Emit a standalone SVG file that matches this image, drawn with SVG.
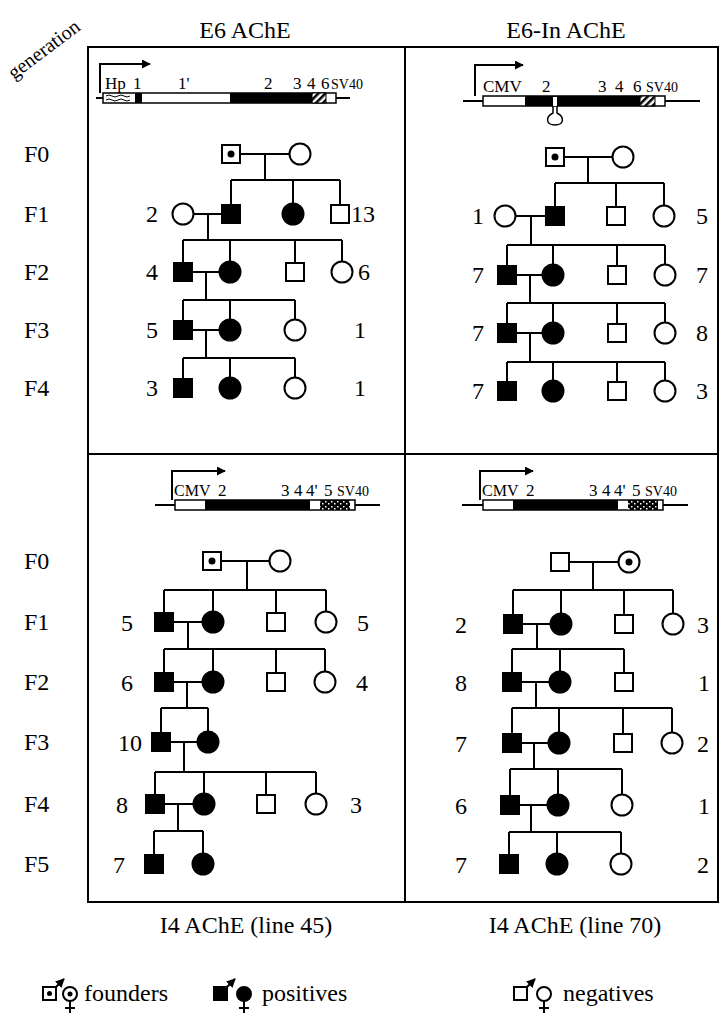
<svg xmlns="http://www.w3.org/2000/svg" width="727" height="1023" viewBox="0 0 727 1023" font-family="'Liberation Serif','Times New Roman',serif">
<defs>
<style>
text{font-family:"Liberation Serif","Times New Roman",serif;fill:#000}
.lb{font-size:24px}
.num{font-size:24px;text-anchor:middle}
.gl{font-size:20px}
.cl{font-size:17px}
.cm{font-size:16px}
.sv{font-size:14px}
.ln{stroke:#000;stroke-width:2;fill:none}
.o{fill:#fff;stroke:#000;stroke-width:2}
.f{fill:#000;stroke:#000;stroke-width:2}
.dot{fill:#000}
.leg{font-size:24px}
</style>
<pattern id="hatch" width="5" height="5" patternUnits="userSpaceOnUse" patternTransform="rotate(45)">
<rect width="5" height="5" fill="#fff"/><rect width="2.5" height="5" fill="#000"/>
</pattern>
<pattern id="stip" width="6" height="5" patternUnits="userSpaceOnUse">
<rect width="6" height="5" fill="#000"/><rect x="1" y="1" width="1.5" height="1.5" fill="#fff"/><rect x="4" y="3" width="1.5" height="1.5" fill="#fff"/>
</pattern>
<marker id="ah" viewBox="0 0 10 10" refX="9" refY="5" markerWidth="9" markerHeight="9" markerUnits="userSpaceOnUse" orient="auto">
<path d="M0,0 L10,5 L0,10 z" fill="#000"/>
</marker>
</defs>
<rect width="727" height="1023" fill="#fff"/>

<g id="titles">
<text class="lb" x="245" y="38" text-anchor="middle">E6 AChE</text>
<text class="lb" x="566" y="38" text-anchor="middle">E6-In AChE</text>
<text class="gl" x="14" y="80" transform="rotate(-37 14 80)">generation</text>
<text class="lb" x="246" y="933" text-anchor="middle">I4 AChE (line 45)</text>
<text class="lb" x="575" y="933" text-anchor="middle">I4 AChE (line 70)</text>
</g>

<g id="frame">
<rect class="ln" x="88" y="47" width="630" height="855"/>
<line class="ln" x1="88" y1="454" x2="718" y2="454"/>
<line class="ln" x1="405" y1="47" x2="405" y2="902"/>
</g>

<g id="gen-labels" class="lb">
<text x="24" y="162">F0</text>
<text x="24" y="222">F1</text>
<text x="24" y="280">F2</text>
<text x="24" y="338">F3</text>
<text x="24" y="396">F4</text>
<text x="24" y="569">F0</text>
<text x="24" y="630">F1</text>
<text x="24" y="690">F2</text>
<text x="24" y="750">F3</text>
<text x="24" y="812">F4</text>
<text x="24" y="872">F5</text>
</g>

<g id="construct-E6">
<line class="ln" x1="96" y1="98" x2="350" y2="98"/>
<path class="ln" d="M100,93 V64 H150" marker-end="url(#ah)"/>
<rect x="103" y="93" width="233" height="10" fill="#fff" stroke="#000" stroke-width="1.5"/>
<path d="M106,96 q3,-2 6,0 t6,0 t6,0 t6,0 M106,100 q3,-2 6,0 t6,0 t6,0 t6,0" fill="none" stroke="#000" stroke-width="1"/>
<rect x="135" y="93" width="7" height="10" fill="#000"/>
<rect x="230" y="93" width="82" height="10" fill="#000"/>
<rect x="312" y="93" width="14" height="10" fill="url(#hatch)" stroke="#000" stroke-width="1"/>
<text class="cl" x="105" y="89">Hp</text>
<text class="cl" x="133" y="89">1</text>
<text class="cl" x="178" y="89">1'</text>
<text class="cl" x="264" y="89">2</text>
<text class="cl" x="293" y="89">3</text>
<text class="cl" x="307" y="89">4</text>
<text class="cl" x="321" y="89">6</text>
<text class="sv" x="331" y="89">SV40</text>
</g>

<g id="construct-E6In">
<line class="ln" x1="463" y1="101" x2="700" y2="101"/>
<path class="ln" d="M475,96 V65 H523" marker-end="url(#ah)"/>
<rect x="483" y="96" width="182" height="10" fill="#fff" stroke="#000" stroke-width="1.5"/>
<rect x="525" y="96" width="115" height="10" fill="#000"/>
<rect x="553" y="97" width="4" height="9" fill="#fff"/>
<rect x="640" y="96" width="15" height="10" fill="url(#hatch)" stroke="#000" stroke-width="1"/>
<path d="M553,106 V113 C545,117 546,125 555,125 C564,125 565,117 557,113 V106" fill="none" stroke="#000" stroke-width="1.5"/>
<text class="cl" x="483" y="92">CMV</text>
<text class="cl" x="542" y="92">2</text>
<text class="cl" x="598" y="92">3</text>
<text class="cl" x="615" y="92">4</text>
<text class="cl" x="633" y="92">6</text>
<text class="sv" x="646" y="92">SV40</text>
</g>

<g id="construct-I4-45">
<line class="ln" x1="155" y1="505" x2="380" y2="505"/>
<path class="ln" d="M172,500 V471 H225" marker-end="url(#ah)"/>
<rect x="175" y="500" width="180" height="10" fill="#fff" stroke="#000" stroke-width="1.5"/>
<rect x="205" y="500" width="105" height="10" fill="#000"/>
<rect x="320" y="500" width="30" height="10" fill="url(#stip)"/>
<text class="cm" x="174" y="496">CMV</text>
<text class="cl" x="218" y="496">2</text>
<text class="cl" x="281" y="496">3</text>
<text class="cl" x="294" y="496">4</text>
<text class="cl" x="306" y="496">4'</text>
<text class="cl" x="324" y="496">5</text>
<text class="sv" x="337" y="496">SV40</text>
</g>

<g id="construct-I4-70">
<line class="ln" x1="462" y1="505" x2="688" y2="505"/>
<path class="ln" d="M480,500 V471 H533" marker-end="url(#ah)"/>
<rect x="483" y="500" width="180" height="10" fill="#fff" stroke="#000" stroke-width="1.5"/>
<rect x="513" y="500" width="105" height="10" fill="#000"/>
<rect x="628" y="500" width="30" height="10" fill="url(#stip)"/>
<text class="cm" x="482" y="496">CMV</text>
<text class="cl" x="526" y="496">2</text>
<text class="cl" x="589" y="496">3</text>
<text class="cl" x="602" y="496">4</text>
<text class="cl" x="614" y="496">4'</text>
<text class="cl" x="632" y="496">5</text>
<text class="sv" x="645" y="496">SV40</text>
</g>

<g id="connectors" class="ln">
<path d="M240,154 H289.5 M265,154 V180 M231,180 H340 M231,180 V205 M293,180 V203.5 M340,180 V205"/>
<path d="M193.5,214 H222 M208,214 V240 M183,240 H342 M183,240 V263 M230,240 V261.5 M295,240 V263 M342,240 V261.5"/>
<path d="M192,272 H219.5 M206,272 V300 M183,300 H295 M183,300 V321 M230,300 V319.5 M295,300 V319.5"/>
<path d="M192,330 H219.5 M206,330 V358 M183,358 H295 M183,358 V379 M230,358 V377.5 M295,358 V377.5"/>

<path d="M564,157 H612.5 M588,157 V183 M555,183 H664 M555,183 V207 M616,183 V207 M664,183 V205.5"/>
<path d="M515.5,216 H546 M531,216 V245 M507,245 H665 M507,245 V266 M553,245 V264.5 M617,245 V266 M665,245 V264.5"/>
<path d="M516,275 H542.5 M530,275 V303 M507,303 H665 M507,303 V324 M553,303 V322.5 M617,303 V324 M665,303 V322.5"/>
<path d="M516,333 H542.5 M530,333 V362 M507,362 H665 M507,362 V382 M553,362 V380.5 M617,362 V382 M665,362 V380.5"/>

<path d="M221,561 H269.5 M247,561 V590 M164,590 H326 M164,590 V613 M213,590 V611.5 M276,590 V613 M326,590 V611.5"/>
<path d="M173,622 H202.5 M188,622 V649 M164,649 H325 M164,649 V673 M213,649 V671.5 M276,649 V673 M325,649 V671.5"/>
<path d="M173,682 H202.5 M187,682 V708 M161,708 H208 M161,708 V733 M208,708 V731.5"/>
<path d="M170,742 H197.5 M184,742 V772 M155,772 H316 M155,772 V795 M204,772 V793.5 M266,772 V795 M316,772 V793.5"/>
<path d="M164,804 H193.5 M178,804 V831 M154,831 H203 M154,831 V855 M203,831 V853.5"/>

<path d="M569,562 H618.5 M593,562 V590 M513,590 H673 M513,590 V615 M561,590 V613.5 M624,590 V615 M673,590 V613.5"/>
<path d="M522,624 H550.5 M537,624 V649 M512,649 H624 M512,649 V673 M560,649 V671.5 M624,649 V673"/>
<path d="M521,682 H549.5 M536,682 V708 M512,708 H672 M512,708 V734 M559,708 V732.5 M623,708 V734 M672,708 V732.5"/>
<path d="M521,743 H548.5 M534,743 V769 M510,769 H622 M510,769 V796 M558,769 V794.5 M622,769 V794.5"/>
<path d="M519,805 H547.5 M531,805 V832 M509,832 H621 M509,832 V855 M557,832 V853.5 M621,832 V853.5"/>
</g>

<g id="ped-E6">
<rect class="o" x="222" y="145" width="18" height="18"/><circle class="dot" cx="231" cy="154" r="3.5"/>
<circle class="o" cx="300" cy="154" r="10.5"/>
<circle class="o" cx="183" cy="214" r="10.5"/>
<rect class="f" x="222" y="205" width="18" height="18"/>
<circle class="f" cx="293" cy="214" r="10.5"/>
<rect class="o" x="331" y="205" width="18" height="18"/>
<rect class="f" x="174" y="263" width="18" height="18"/>
<circle class="f" cx="230" cy="272" r="10.5"/>
<rect class="o" x="286" y="263" width="18" height="18"/>
<circle class="o" cx="342" cy="272" r="10.5"/>
<rect class="f" x="174" y="321" width="18" height="18"/>
<circle class="f" cx="230" cy="330" r="10.5"/>
<circle class="o" cx="295" cy="330" r="10.5"/>
<rect class="f" x="174" y="379" width="18" height="18"/>
<circle class="f" cx="230" cy="388" r="10.5"/>
<circle class="o" cx="295" cy="388" r="10.5"/>
<g class="num">
<text x="152" y="222">2</text><text x="363" y="222">13</text>
<text x="152" y="280">4</text><text x="364" y="280">6</text>
<text x="152" y="338">5</text><text x="360" y="338">1</text>
<text x="152" y="396">3</text><text x="360" y="396">1</text>
</g>
</g>

<g id="ped-E6In">
<rect class="o" x="546" y="148" width="18" height="18"/><circle class="dot" cx="555" cy="157" r="3.5"/>
<circle class="o" cx="623" cy="157" r="10.5"/>
<circle class="o" cx="505" cy="216" r="10.5"/>
<rect class="f" x="546" y="207" width="18" height="18"/>
<rect class="o" x="607" y="207" width="18" height="18"/>
<circle class="o" cx="664" cy="216" r="10.5"/>
<rect class="f" x="498" y="266" width="18" height="18"/>
<circle class="f" cx="553" cy="275" r="10.5"/>
<rect class="o" x="608" y="266" width="18" height="18"/>
<circle class="o" cx="665" cy="275" r="10.5"/>
<rect class="f" x="498" y="324" width="18" height="18"/>
<circle class="f" cx="553" cy="333" r="10.5"/>
<rect class="o" x="608" y="324" width="18" height="18"/>
<circle class="o" cx="665" cy="333" r="10.5"/>
<rect class="f" x="498" y="382" width="18" height="18"/>
<circle class="f" cx="553" cy="391" r="10.5"/>
<rect class="o" x="608" y="382" width="18" height="18"/>
<circle class="o" cx="665" cy="391" r="10.5"/>
<g class="num">
<text x="478" y="224">1</text><text x="702" y="224">5</text>
<text x="478" y="283">7</text><text x="702" y="283">7</text>
<text x="478" y="341">7</text><text x="702" y="341">8</text>
<text x="478" y="399">7</text><text x="702" y="399">3</text>
</g>
</g>

<g id="ped-I4-45">
<rect class="o" x="203" y="552" width="18" height="18"/><circle class="dot" cx="212" cy="561" r="3.5"/>
<circle class="o" cx="280" cy="561" r="10.5"/>
<rect class="f" x="155" y="613" width="18" height="18"/>
<circle class="f" cx="213" cy="622" r="10.5"/>
<rect class="o" x="267" y="613" width="18" height="18"/>
<circle class="o" cx="326" cy="622" r="10.5"/>
<rect class="f" x="155" y="673" width="18" height="18"/>
<circle class="f" cx="213" cy="682" r="10.5"/>
<rect class="o" x="267" y="673" width="18" height="18"/>
<circle class="o" cx="325" cy="682" r="10.5"/>
<rect class="f" x="152" y="733" width="18" height="18"/>
<circle class="f" cx="208" cy="742" r="10.5"/>
<rect class="f" x="146" y="795" width="18" height="18"/>
<circle class="f" cx="204" cy="804" r="10.5"/>
<rect class="o" x="257" y="795" width="18" height="18"/>
<circle class="o" cx="316" cy="804" r="10.5"/>
<rect class="f" x="145" y="855" width="18" height="18"/>
<circle class="f" cx="203" cy="864" r="10.5"/>
<g class="num">
<text x="127" y="631">5</text><text x="363" y="631">5</text>
<text x="127" y="691">6</text><text x="362" y="691">4</text>
<text x="130" y="751">10</text>
<text x="122" y="813">8</text><text x="356" y="813">3</text>
<text x="119" y="873">7</text>
</g>
</g>

<g id="ped-I4-70">
<rect class="o" x="551" y="553" width="18" height="18"/>
<circle class="o" cx="629" cy="562" r="10.5"/><circle class="dot" cx="629" cy="562" r="3.5"/>
<rect class="f" x="504" y="615" width="18" height="18"/>
<circle class="f" cx="561" cy="624" r="10.5"/>
<rect class="o" x="615" y="615" width="18" height="18"/>
<circle class="o" cx="673" cy="624" r="10.5"/>
<rect class="f" x="503" y="673" width="18" height="18"/>
<circle class="f" cx="560" cy="682" r="10.5"/>
<rect class="o" x="615" y="673" width="18" height="18"/>
<rect class="f" x="503" y="734" width="18" height="18"/>
<circle class="f" cx="559" cy="743" r="10.5"/>
<rect class="o" x="614" y="734" width="18" height="18"/>
<circle class="o" cx="672" cy="743" r="10.5"/>
<rect class="f" x="501" y="796" width="18" height="18"/>
<circle class="f" cx="558" cy="805" r="10.5"/>
<circle class="o" cx="622" cy="805" r="10.5"/>
<rect class="f" x="500" y="855" width="18" height="18"/>
<circle class="f" cx="557" cy="864" r="10.5"/>
<circle class="o" cx="621" cy="864" r="10.5"/>
<g class="num">
<text x="461" y="633">2</text><text x="703" y="633">3</text>
<text x="461" y="691">8</text><text x="704" y="691">1</text>
<text x="461" y="752">7</text><text x="703" y="752">2</text>
<text x="461" y="814">6</text><text x="704" y="814">1</text>
<text x="461" y="873">7</text><text x="703" y="873">2</text>
</g>
</g>

<g id="legend">
<rect class="o" x="43" y="987" width="13" height="13"/><circle class="dot" cx="49.5" cy="993.5" r="2.5"/>
<path class="ln" d="M56,987 L64,979" stroke-width="1.5" marker-end="url(#ah)"/>
<circle class="o" cx="70" cy="994" r="7"/><circle class="dot" cx="70" cy="994" r="2.5"/>
<path class="ln" d="M70,1001 V1013 M65,1008 H75" stroke-width="1.5"/>
<text class="leg" x="84" y="1001">founders</text>
<rect class="f" x="214" y="987" width="13" height="13"/>
<path class="ln" d="M227,987 L235,979" stroke-width="1.5" marker-end="url(#ah)"/>
<circle class="f" cx="244" cy="994" r="7"/>
<path class="ln" d="M244,1001 V1013 M239,1008 H249" stroke-width="1.5"/>
<text class="leg" x="262" y="1001">positives</text>
<rect class="o" x="514" y="987" width="13" height="13"/>
<path class="ln" d="M527,987 L535,979" stroke-width="1.5" marker-end="url(#ah)"/>
<circle class="o" cx="544" cy="994" r="7"/>
<path class="ln" d="M544,1001 V1013 M539,1008 H549" stroke-width="1.5"/>
<text class="leg" x="563" y="1001">negatives</text>
</g>
</svg>
